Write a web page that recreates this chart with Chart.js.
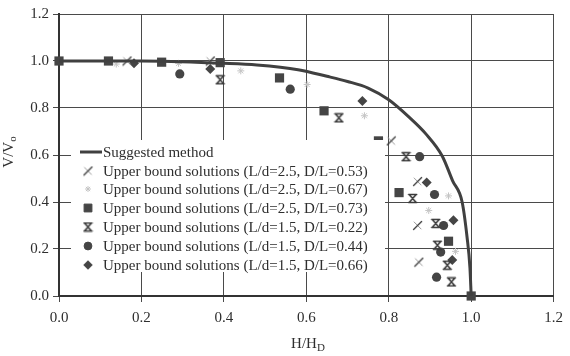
<!DOCTYPE html>
<html>
<head>
<meta charset="utf-8">
<script src="https://cdn.jsdelivr.net/npm/chart.js@4.4.1/dist/chart.umd.min.js"></script>
<style>
  html, body { margin: 0; padding: 0; background: #fff; }
  #wrap { width: 570px; height: 356px; }
</style>
</head>
<body>
<div id="wrap"><canvas id="chart" width="570" height="356"></canvas></div>
<script>
// ticks
const xTicks = [0, 0.2, 0.4, 0.6, 0.8, 1.0, 1.2];
const yTicks = [0, 0.2, 0.4, 0.6, 0.8, 1.0, 1.2];

// Suggested method
const curveX = [0, 0.2, 0.4, 0.48, 0.58, 0.65, 0.7, 0.75, 0.8, 0.85, 0.89, 0.93, 0.955, 0.978, 0.99, 0.997, 1.0];
const curveY = [1.0, 1.0, 0.99, 0.983, 0.963, 0.935, 0.913, 0.885, 0.835, 0.76, 0.69, 0.595, 0.49, 0.40, 0.25, 0.12, 0.0];

// Upper bound solutions
const s053X = [0.165, 0.367, 0.806, 0.870, 0.870, 0.873];
const s053Y = [1.0, 1.0, 0.66, 0.487, 0.30, 0.144];

const s067X = [0.139, 0.29, 0.441, 0.602, 0.741, 0.897, 0.945, 0.962];
const s067Y = [0.987, 0.99, 0.958, 0.90, 0.767, 0.364, 0.426, 0.19];

const s073X = [0, 0.12, 0.249, 0.391, 0.535, 0.643, 0.775, 0.825, 0.945, 1.0];
const s073Y = [1.0, 1.0, 0.995, 0.993, 0.928, 0.788, 0.66, 0.44, 0.233, 0.0];

const s022X = [0.391, 0.679, 0.842, 0.858, 0.914, 0.918, 0.942, 0.952];
const s022Y = [0.92, 0.758, 0.593, 0.415, 0.309, 0.216, 0.131, 0.06];

const s044X = [0.293, 0.561, 0.875, 0.911, 0.933, 0.926, 0.916];
const s044Y = [0.945, 0.88, 0.593, 0.432, 0.30, 0.187, 0.08];

const s066X = [0.182, 0.367, 0.736, 0.892, 0.957, 0.954];
const s066Y = [0.99, 0.966, 0.83, 0.483, 0.322, 0.153];

const seriesLabels = [
  'Suggested method',
  'Upper bound solutions (L/d=2.5, D/L=0.53)',
  'Upper bound solutions (L/d=2.5, D/L=0.67)',
  'Upper bound solutions (L/d=2.5, D/L=0.73)',
  'Upper bound solutions (L/d=1.5, D/L=0.22)',
  'Upper bound solutions (L/d=1.5, D/L=0.44)',
  'Upper bound solutions (L/d=1.5, D/L=0.66)'
];

const ink = '#3a3a3a';
const SERIF = '"Liberation Serif", "Times New Roman", serif';

function pts(xs, ys) {
  return xs.map((x, i) => ({ x: x, y: ys[i] }));
}

// маленькие картинки для нестандартных маркеров
function makeMarker(size, draw) {
  const c = document.createElement('canvas');
  c.width = size; c.height = size;
  const g = c.getContext('2d');
  g.lineCap = 'round';
  draw(g, size);
  return c;
}

// X с перекладинами сверху и снизу
const hourglassX = makeMarker(11, (g, s) => {
  g.strokeStyle = ink;
  g.lineWidth = 1.6;
  g.beginPath();
  g.moveTo(2, 1.5); g.lineTo(s - 2, s - 1.5);
  g.moveTo(s - 2, 1.5); g.lineTo(2, s - 1.5);
  g.moveTo(1.5, 1.5); g.lineTo(s - 1.5, 1.5);
  g.moveTo(1.5, s - 1.5); g.lineTo(s - 1.5, s - 1.5);
  g.stroke();
});

// косая черта с бледной второй линией
const slashX = makeMarker(11, (g, s) => {
  g.strokeStyle = '#9a9a9a';
  g.lineWidth = 1;
  g.beginPath();
  g.moveTo(2, 2); g.lineTo(s - 2, s - 2);
  g.stroke();
  g.strokeStyle = ink;
  g.lineWidth = 1.3;
  g.beginPath();
  g.moveTo(1.5, s - 1.5); g.lineTo(s - 1.5, 1.5);
  g.stroke();
});

const datasets = [
  {
    label: seriesLabels[0],
    data: pts(curveX, curveY),
    showLine: true,
    borderColor: '#404040',
    borderWidth: 3,
    pointRadius: 0,
    cubicInterpolationMode: 'monotone',
    legendStyle: 'line'
  },
  {
    label: seriesLabels[1],
    data: pts(s053X, s053Y),
    pointStyle: slashX,
    pointRadius: 5
  },
  {
    label: seriesLabels[2],
    data: pts(s067X, s067Y),
    pointStyle: 'star',
    pointRadius: 3.5,
    borderColor: '#c4c4c4',
    backgroundColor: '#c4c4c4',
    pointBorderWidth: 1
  },
  {
    label: seriesLabels[3],
    data: pts(s073X, s073Y),
    pointStyle: 'rect',
    pointRadius: 6.5,
    borderColor: '#454545',
    backgroundColor: '#454545',
    pointBorderWidth: 0
  },
  {
    label: seriesLabels[4],
    data: pts(s022X, s022Y),
    pointStyle: hourglassX,
    pointRadius: 5
  },
  {
    label: seriesLabels[5],
    data: pts(s044X, s044Y),
    pointStyle: 'circle',
    pointRadius: 4.6,
    borderColor: '#454545',
    backgroundColor: '#454545',
    pointBorderWidth: 0
  },
  {
    label: seriesLabels[6],
    data: pts(s066X, s066Y),
    pointStyle: 'rectRot',
    pointRadius: 5,
    borderColor: '#454545',
    backgroundColor: '#454545',
    pointBorderWidth: 0
  }
];
datasets.forEach(d => { d.clip = false; });

// легенда внутри области графика + подписи осей с индексами
const decorPlugin = {
  id: 'decor',
  afterDraw(chart) {
    const ctx = chart.ctx;
    ctx.save();

    // белая подложка легенды, закрывает сетку
    ctx.fillStyle = '#fff';
    ctx.fillRect(71, 140, 314, 132);

    const rowY = [152, 171, 189, 208, 227, 246, 265];
    ctx.font = '15px ' + SERIF;
    ctx.fillStyle = '#2e2e2e';
    ctx.textBaseline = 'middle';
    ctx.textAlign = 'left';
    chart.data.datasets.forEach((ds, i) => {
      const y = rowY[i];
      if (ds.legendStyle === 'line') {
        ctx.strokeStyle = ds.borderColor;
        ctx.lineWidth = 3;
        ctx.beginPath();
        ctx.moveTo(80, y); ctx.lineTo(102, y);
        ctx.stroke();
      } else {
        ctx.save();
        ctx.fillStyle = ds.backgroundColor || ink;
        ctx.strokeStyle = ds.borderColor || ink;
        ctx.lineWidth = ds.pointBorderWidth || 1;
        Chart.helpers.drawPoint(ctx, {
          pointStyle: ds.pointStyle,
          radius: ds.pointRadius * 0.85,
          rotation: 0,
          borderWidth: ds.pointBorderWidth || 1
        }, 88, y);
        ctx.restore();
      }
      ctx.fillStyle = '#2e2e2e';
      ctx.fillText(ds.label, 103, y + 1);
    });

    // подписи осей
    ctx.fillStyle = '#2e2e2e';
    ctx.textBaseline = 'alphabetic';
    const big = '15px ' + SERIF, small = '11px ' + SERIF;

    ctx.font = big;
    const hw = ctx.measureText('H/H').width;
    ctx.font = small;
    const dw = ctx.measureText('D').width;
    let x0 = 308 - (hw + dw) / 2;
    ctx.font = big;
    ctx.fillText('H/H', x0, 348);
    ctx.font = small;
    ctx.fillText('D', x0 + hw, 351);

    ctx.save();
    ctx.translate(13, 152);
    ctx.rotate(-Math.PI / 2);
    ctx.font = big;
    const vw = ctx.measureText('V/V').width;
    ctx.font = small;
    const ow = ctx.measureText('o').width;
    x0 = -(vw + ow) / 2;
    ctx.font = big;
    ctx.fillText('V/V', x0, 0);
    ctx.font = small;
    ctx.fillText('o', x0 + vw, 3);
    ctx.restore();

    ctx.restore();
  }
};

function axisOpts(ticks, isX) {
  return {
    type: 'linear',
    min: 0,
    max: 1.2,
    afterBuildTicks: s => { s.ticks = ticks.map(v => ({ value: v })); },
    afterFit: s => { if (isX) s.height = 60; else s.width = 59; },
    ticks: {
      callback: v => Number(v).toFixed(1),
      color: '#2e2e2e',
      font: { family: SERIF, size: 15 },
      padding: isX ? 7 : 4
    },
    grid: {
      color: '#4a4a4a',
      lineWidth: 1,
      tickLength: 6
    },
    border: { color: '#333', width: 2 }
  };
}

new Chart(document.getElementById('chart'), {
  type: 'scatter',
  data: { datasets },
  options: {
    responsive: false,
    animation: false,
    devicePixelRatio: 1,
    layout: { padding: { top: 14, right: 11, left: 0, bottom: 0 } },
    plugins: {
      legend: { display: false },
      tooltip: { enabled: false }
    },
    scales: {
      x: axisOpts(xTicks, true),
      y: axisOpts(yTicks, false)
    }
  },
  plugins: [decorPlugin]
});
</script>
</body>
</html>
